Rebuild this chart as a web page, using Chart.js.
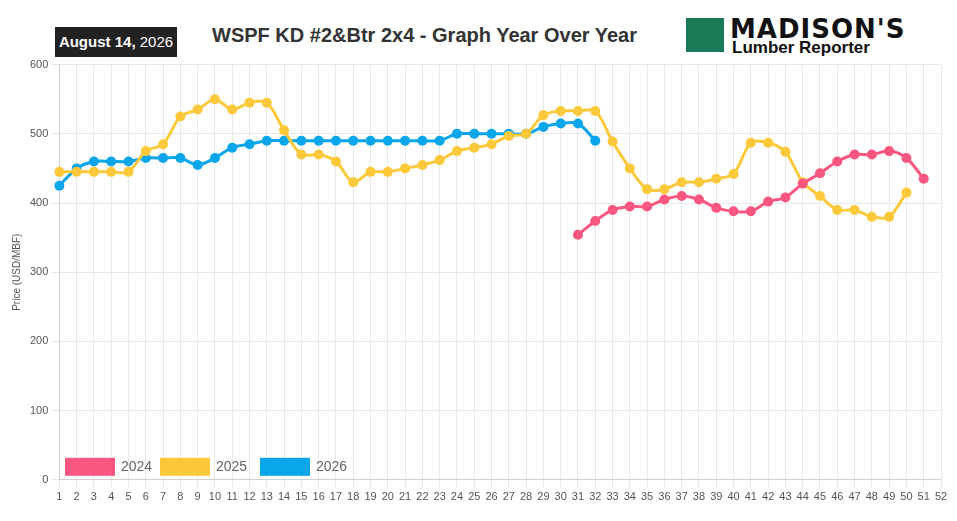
<!DOCTYPE html>
<html><head><meta charset="utf-8">
<script src="https://cdn.jsdelivr.net/npm/chart.js@4"></script>
<style>
body{margin:0;background:#fff;font-family:"Liberation Sans",Arial,sans-serif;}
#wrap{position:relative;width:957px;height:521px;}
#date{position:absolute;left:55px;top:27px;width:122px;height:30px;background:#222;color:#fff;font-size:15px;line-height:30px;text-align:center;}
#title{position:absolute;left:212px;top:24px;font-size:20px;font-weight:bold;color:#333;}
#logo{position:absolute;left:686px;top:16px;width:250px;height:40px;}
#logo .m{position:absolute;left:0;top:2px;width:38px;height:34px;background:#1a7a55;}
#logo .t1{position:absolute;left:44px;top:-2px;font-size:26px;font-weight:900;letter-spacing:1px;color:#111;font-family:"DejaVu Sans";}
#logo .t2{position:absolute;left:46px;top:22px;font-size:17px;font-weight:bold;color:#111;}
#c{position:absolute;left:0;top:55px;}
</style></head><body><div id="wrap">
<div id="date"><b>August 14,</b> 2026</div>
<div id="title">WSPF KD #2&amp;Btr 2x4 - Graph Year Over Year</div>
<div id="logo"><div class="m"></div><div class="t1">MADISON'S</div><div class="t2">Lumber Reporter</div></div>
<canvas id="c" width="957" height="452"></canvas>
</div>
<script>
const weeks = Array.from({length: 52}, (_, i) => String(i + 1));
const y2024 = [null,null,null,null,null,null,null,null,null,null,null,null,null,null,null,null,null,null,null,null,null,null,null,null,null,null,null,null,null,null,
  354,374,390,395,395,405,410,405,393,388,388,402,408,428,443,460,470,470,475,465,435];
const y2025 = [445,445,445,445,445,475,485,525,535,550,535,545,545,505,470,470,460,430,445,445,450,455,462,475,480,485,497,500,527,533,533,533,489,450,420,420,430,430,435,442,487,487,474,430,410,390,390,380,380,415];
const y2026 = [425,450,460,460,460,465,465,465,455,465,480,485,490,490,490,490,490,490,490,490,490,490,490,500,500,500,500,500,510,515,515,490];

function ds(label, data, color) {
  return {label, data, borderColor: color, backgroundColor: color, pointBackgroundColor: color,
    borderWidth: 3, pointRadius: 5, pointBorderWidth: 0, spanGaps: false, tension: 0.3};
}
new Chart(document.getElementById('c'), {
  type: 'line',
  data: {labels: weeks, datasets: [
    ds('2024', y2024, '#f9577f'),
    ds('2025', y2025, '#fdc93b'),
    ds('2026', y2026, '#0aa6ec')
  ]},
  options: {
    responsive: false, animation: false,
    layout: {padding: {left: 7, right: 16, top: 4, bottom: 0}},
    plugins: {
      legend: {display: false},
      title: {display: false}
    },
    scales: {
      x: {grid: {color: '#e8e8e8'}, ticks: {color: '#555', font: {size: 11}, maxRotation: 0, autoSkip: false}},
      y: {min: 0, max: 600, grid: {color: '#e8e8e8'}, ticks: {stepSize: 100, color: '#555', font: {size: 11}},
        title: {display: true, text: 'Price (USD/MBF)', color: '#555', font: {size: 10}}}
    }
  },
  plugins: [{
    id: 'legendBox',
    afterDraw(chart) {
      const ctx = chart.ctx;
      const items = chart.data.datasets;
      const xs = [65, 160, 260];
      const y = chart.scales.y.getPixelForValue(0) - 13;
      ctx.save();
      ctx.font = '14px "Liberation Sans", Arial';
      ctx.textBaseline = 'middle';
      items.forEach((d, i) => {
        ctx.fillStyle = d.borderColor;
        ctx.fillRect(xs[i], y - 9, 50, 18);
        ctx.fillStyle = '#666';
        ctx.fillText(d.label, xs[i] + 56, y);
      });
      ctx.restore();
    }
  }]
});
</script></body></html>
